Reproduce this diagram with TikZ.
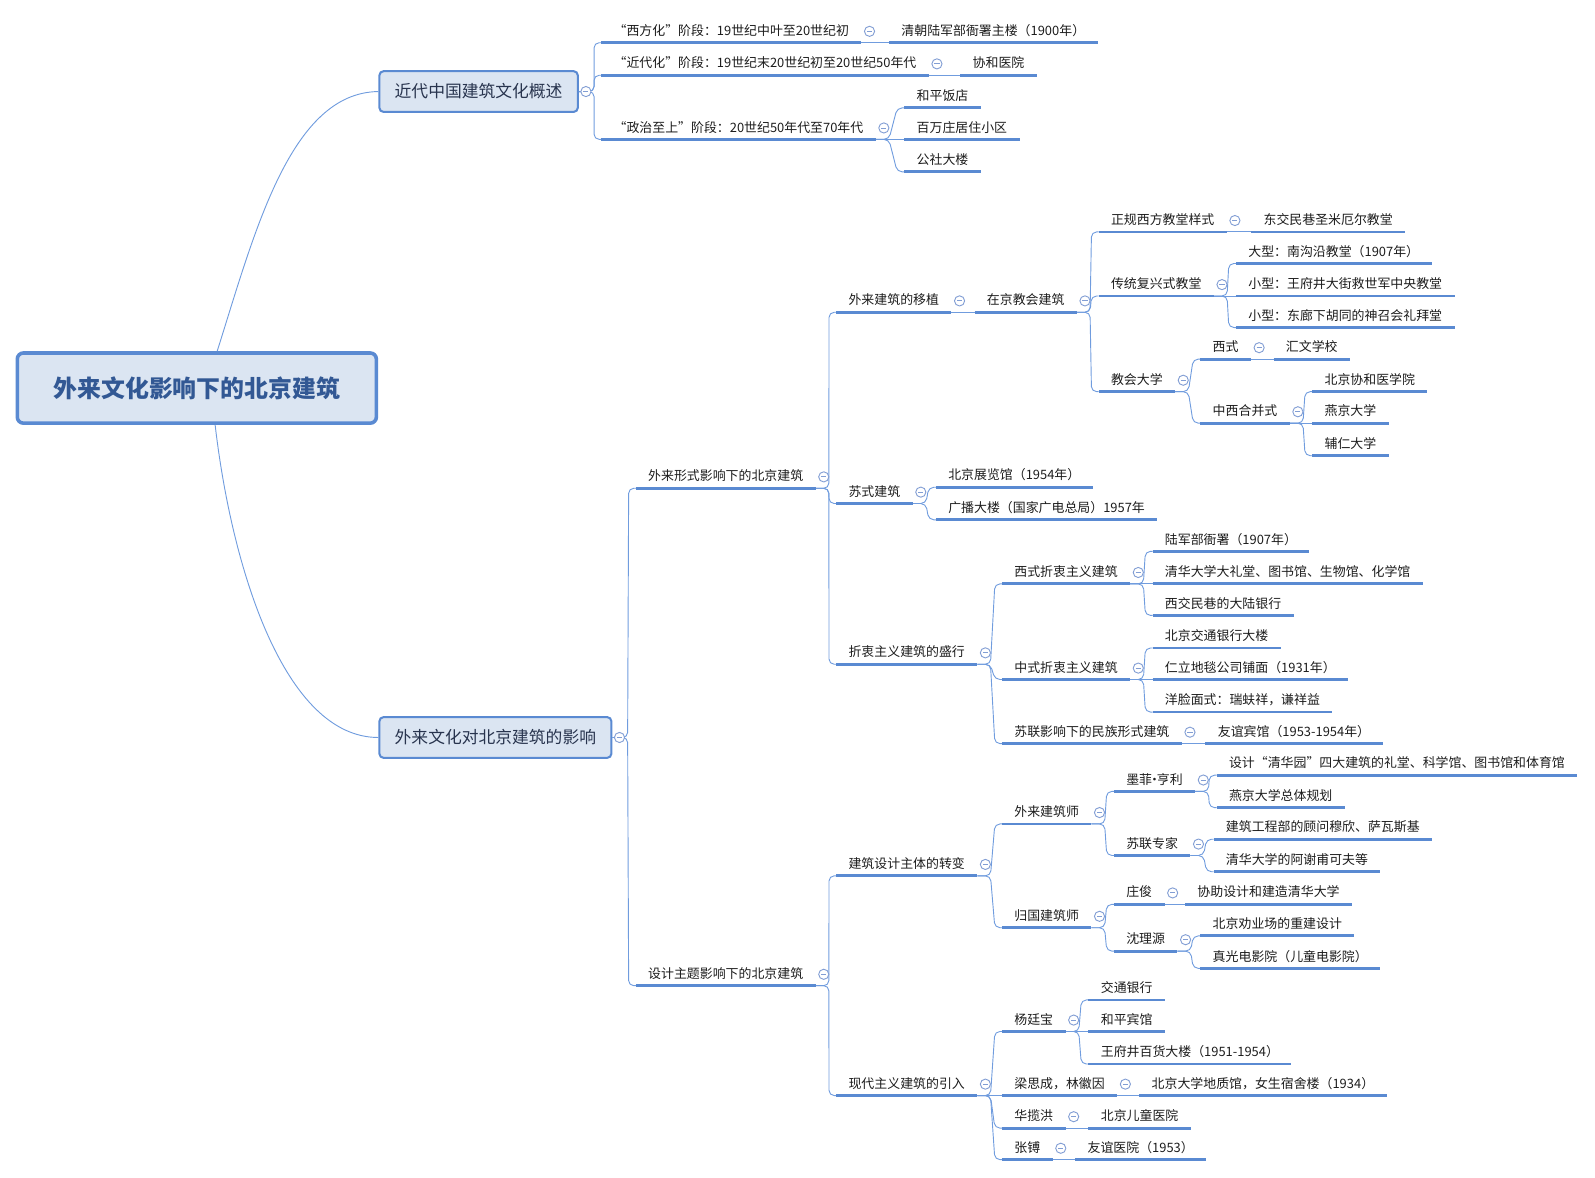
\documentclass[tikz,border=0pt]{standalone}
\usepackage{fontspec}
\newfontfamily\cjk{Noto Sans CJK SC}
\definecolor{mline}{RGB}{90,138,210}
\definecolor{lnk}{RGB}{112,156,222}
\definecolor{boxfill}{RGB}{219,229,242}
\definecolor{foldc}{RGB}{130,158,212}
\definecolor{roottxt}{RGB}{50,88,148}
\definecolor{boxtxt}{RGB}{40,52,78}
\definecolor{txt}{RGB}{28,28,28}
\tikzset{
  rootbox/.style = {draw=mline, line width=3.5pt, rounded corners=6pt, fill=boxfill,
                    minimum width=353pt, minimum height=69pt,
                    font=\cjk\bfseries\fontsize{23.5}{28}\selectfont, text=roottxt},
  mainbox/.style = {draw=mline, line width=2pt, rounded corners=4pt, fill=boxfill,
                    minimum height=40pt, inner xsep=15pt, anchor=west,
                    font=\cjk\fontsize{16.5}{20}\selectfont, text=boxtxt},
  topic/.style   = {anchor=south west, inner xsep=12pt, inner ysep=5pt,
                    text height=10pt, text depth=2pt,
                    font=\cjk\fontsize{12.7}{15}\selectfont, text=txt},
  uline/.style   = {draw=mline, line width=2.8pt},
  link/.style    = {draw=lnk, line width=0.9pt, rounded corners=5pt},
  branch/.style  = {to path={-- ++(#1,0) -- ([xshift=-7pt]\tikztotarget) -- (\tikztotarget)}},
  branch/.default = 13pt,
  fold/.style    = {circle, draw=foldc, line width=0.9pt, fill=white, minimum size=10pt,
                    inner sep=0pt,
                    path picture={\draw[foldc, line width=0.9pt]
                      ([xshift=-2.5pt]path picture bounding box.center) --
                      ([xshift=2.5pt]path picture bounding box.center);}}
}
\begin{document}
\begin{tikzpicture}[x=1pt, y=-1pt]
  \useasboundingbox (0,0) rectangle (1568,1158);

  \node[rootbox] (root) at (193.5,381.5) {外来文化影响下的北京建筑};
  \node[mainbox] (gs) at (372,90)  {近代中国建筑文化概述};
  \node[mainbox] (yx) at (372,725) {外来文化对北京建筑的影响};

  % 近代中国建筑文化概述
  \node[topic] (xfh)  at (591,42)  {“西方化”阶段：19世纪中叶至20世纪初};
  \node[topic] (qclj) at (874,42)  {清朝陆军部衙署主楼（1900年）};
  \node[topic] (jdh)  at (591,74)  {“近代化”阶段：19世纪末20世纪初至20世纪50年代};
  \node[topic] (xhyy) at (944,74)  {协和医院};
  \node[topic] (zzzs) at (591,137) {“政治至上”阶段：20世纪50年代至70年代};
  \node[topic] (hpfd) at (889,106) {和平饭店};
  \node[topic] (bwz)  at (889,137) {百万庄居住小区};
  \node[topic] (gsdl) at (889,169) {公社大楼};

  % 外来形式影响下的北京建筑
  \node[topic] (wlxs)  at (625,480)  {外来形式影响下的北京建筑};
  \node[topic] (wlyz)  at (822,307)  {外来建筑的移植};
  \node[topic] (zjjh)  at (958,307)  {在京教会建筑};
  \node[topic] (zgxf)  at (1080,228) {正规西方教堂样式};
  \node[topic] (djmx)  at (1230,228) {东交民巷圣米厄尔教堂};
  \node[topic] (ctfx)  at (1080,291) {传统复兴式教堂};
  \node[topic] (dx)    at (1215,259) {大型：南沟沿教堂（1907年）};
  \node[topic] (xx1)   at (1215,291) {小型：王府井大街救世军中央教堂};
  \node[topic] (xx2)   at (1215,322) {小型：东廊下胡同的神召会礼拜堂};
  \node[topic] (jhdx)  at (1080,385) {教会大学};
  \node[topic] (xs)    at (1180,353) {西式};
  \node[topic] (hwxx)  at (1252,353) {汇文学校};
  \node[topic] (zxhb)  at (1180,416) {中西合并式};
  \node[topic] (xhyxy) at (1290,385) {北京协和医学院};
  \node[topic] (yjdx)  at (1290,416) {燕京大学};
  \node[topic] (frdx)  at (1290,448) {辅仁大学};
  \node[topic] (ssjz)  at (822,495)  {苏式建筑};
  \node[topic] (zlg)   at (920,479)  {北京展览馆（1954年）};
  \node[topic] (gbdl)  at (920,511)  {广播大楼（国家广电总局）1957年};
  \node[topic] (zzzy)  at (822,653)  {折衷主义建筑的盛行};
  \node[topic] (xszz)  at (985,574)  {西式折衷主义建筑};
  \node[topic] (ljb)   at (1133,542) {陆军部衙署（1907年）};
  \node[topic] (qhdx)  at (1133,574) {清华大学大礼堂、图书馆、生物馆、化学馆};
  \node[topic] (dlyh)  at (1133,605) {西交民巷的大陆银行};
  \node[topic] (zszz)  at (985,668)  {中式折衷主义建筑};
  \node[topic] (jtyh)  at (1133,637) {北京交通银行大楼};
  \node[topic] (rldt)  at (1133,668) {仁立地毯公司铺面（1931年）};
  \node[topic] (ylms)  at (1133,700) {洋脸面式：瑞蚨祥，谦祥益};
  \node[topic] (slmz)  at (985,731)  {苏联影响下的民族形式建筑};
  \node[topic] (yybg)  at (1185,731) {友谊宾馆（1953-1954年）};

  % 设计主题影响下的北京建筑
  \node[topic] (sjzt)  at (625,969)  {设计主题影响下的北京建筑};
  \node[topic] (sjzb)  at (822,861)  {建筑设计主体的转变};
  \node[topic] (wljzs) at (985,810)  {外来建筑师};
  \node[topic] (mfhl)  at (1095,778) {墨菲\kern-4pt·\kern-4pt亨利};
  \node[topic] (qhy)   at (1196,762) {设计“清华园”四大建筑的礼堂、科学馆、图书馆和体育馆};
  \node[topic] (yjgh)  at (1196,794) {燕京大学总体规划};
  \node[topic] (slzj)  at (1095,841) {苏联专家};
  \node[topic] (gwmx)  at (1193,825) {建筑工程部的顾问穆欣、萨瓦斯基};
  \node[topic] (axfkf) at (1193,857) {清华大学的阿谢甫可夫等};
  \node[topic] (ggjzs) at (985,912)  {归国建筑师};
  \node[topic] (zj)    at (1095,889) {庄俊};
  \node[topic] (xzsj)  at (1165,889) {协助设计和建造清华大学};
  \node[topic] (sly)   at (1095,935) {沈理源};
  \node[topic] (qycsj) at (1180,920) {北京劝业场的重建设计};
  \node[topic] (zgdy)  at (1180,952) {真光电影院（儿童电影院）};
  \node[topic] (xdzy)  at (822,1077) {现代主义建筑的引入};
  \node[topic] (ytb)   at (985,1014) {杨廷宝};
  \node[topic] (jtyh2) at (1070,983) {交通银行};
  \node[topic] (hpbg)  at (1070,1014) {和平宾馆};
  \node[topic] (wfj)   at (1070,1046) {王府井百货大楼（1951-1954）};
  \node[topic] (lsc)   at (985,1077) {梁思成，林徽因};
  \node[topic] (bdzg)  at (1120,1077) {北京大学地质馆，女生宿舍楼（1934）};
  \node[topic] (hlh)   at (985,1109) {华揽洪};
  \node[topic] (etyy)  at (1070,1109) {北京儿童医院};
  \node[topic] (zb)    at (985,1140) {张镈};
  \node[topic] (yyyy)  at (1057,1140) {友谊医院（1953）};

  \draw[link] ([xshift=20pt]root.north) .. controls (250,230) and (285,91) .. (gs.west);
  \draw[link] ([xshift=18pt]root.south) .. controls (228,560) and (280,725) .. (yx.west);

  \foreach \c in {xfh,jdh,zzzs} \draw[link] (gs.east) to[branch=15pt] (\c.south west);
  \foreach \c in {wlxs,sjzt} \draw[link] (yx.east) to[branch=15pt] (\c.south west);
  \foreach \p/\c in {xfh/qclj, jdh/xhyy, zzzs/hpfd, zzzs/bwz, zzzs/gsdl,
      wlxs/wlyz, wlxs/ssjz, wlxs/zzzy, wlyz/zjjh, zjjh/zgxf, zjjh/ctfx, zjjh/jhdx,
      zgxf/djmx, ctfx/dx, ctfx/xx1, ctfx/xx2, jhdx/xs, jhdx/zxhb, xs/hwxx,
      zxhb/xhyxy, zxhb/yjdx, zxhb/frdx, ssjz/zlg, ssjz/gbdl,
      zzzy/xszz, zzzy/zszz, zzzy/slmz, xszz/ljb, xszz/qhdx, xszz/dlyh,
      zszz/jtyh, zszz/rldt, zszz/ylms, slmz/yybg,
      sjzt/sjzb, sjzt/xdzy, sjzb/wljzs, sjzb/ggjzs, wljzs/mfhl, wljzs/slzj,
      mfhl/qhy, mfhl/yjgh, slzj/gwmx, slzj/axfkf, ggjzs/zj, ggjzs/sly,
      zj/xzsj, sly/qycsj, sly/zgdy, xdzy/ytb, xdzy/lsc, xdzy/hlh, xdzy/zb,
      ytb/jtyh2, ytb/hpbg, ytb/wfj, lsc/bdzg, hlh/etyy, zb/yyyy}
    \draw[link] (\p.south east) to[branch] (\c.south west);

  \foreach \n in {xfh,qclj,jdh,xhyy,zzzs,hpfd,bwz,gsdl,
      wlxs,wlyz,zjjh,zgxf,djmx,ctfx,dx,xx1,xx2,jhdx,xs,hwxx,zxhb,xhyxy,yjdx,frdx,
      ssjz,zlg,gbdl,zzzy,xszz,ljb,qhdx,dlyh,zszz,jtyh,rldt,ylms,slmz,yybg,
      sjzt,sjzb,wljzs,mfhl,qhy,yjgh,slzj,gwmx,axfkf,ggjzs,zj,xzsj,sly,qycsj,zgdy,
      xdzy,ytb,jtyh2,hpbg,wfj,lsc,bdzg,hlh,etyy,zb,yyyy}
    \draw[uline] (\n.south west) -- (\n.south east);

  \foreach \n in {gs,yx} \node[fold] (\n-f) at ([xshift=7pt]\n.east) {};
  \foreach \n in {xfh,jdh,zzzs,wlxs,wlyz,zjjh,zgxf,ctfx,jhdx,xs,zxhb,ssjz,zzzy,
      xszz,zszz,slmz,sjzt,sjzb,wljzs,mfhl,slzj,ggjzs,zj,sly,xdzy,ytb,lsc,hlh,zb}
    \node[fold] (\n-f) at ([xshift=8pt]\n.east) {};
\end{tikzpicture}
\end{document}
